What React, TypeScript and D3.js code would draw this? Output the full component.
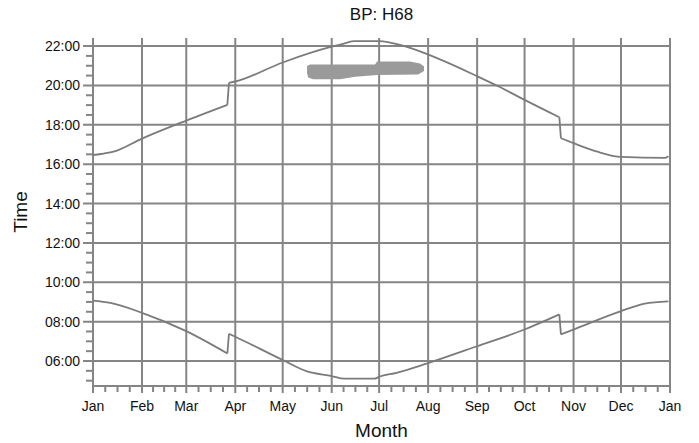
import React from "react";
import * as d3 from "d3";

const title = "BP: H68";
const xTitle = "Month";
const yTitle = "Time";

const monthLabels = ["Jan", "Feb", "Mar", "Apr", "May", "Jun", "Jul", "Aug", "Sep", "Oct", "Nov", "Dec", "Jan"];
const timeTickLabels = ["06:00", "08:00", "10:00", "12:00", "14:00", "16:00", "18:00", "20:00", "22:00"];

// upper curve (evening)
const sunsetDates = [
  "2011-01-01", "2011-01-06", "2011-01-14", "2011-02-01", "2011-03-01", "2011-03-27",
  "2011-03-28", "2011-04-01", "2011-05-01", "2011-06-01", "2011-06-07", "2011-06-15",
  "2011-07-01", "2011-07-16", "2011-07-31", "2011-09-01", "2011-09-15", "2011-10-01",
  "2011-10-23", "2011-10-24", "2011-11-01", "2011-11-16", "2011-12-01", "2011-12-29",
  "2011-12-31",
];
const sunsetTimes = [
  "16:28", "16:31", "16:38", "17:18", "18:13", "19:01",
  "20:08", "20:12", "21:10", "21:58", "22:05", "22:15",
  "22:15", "22:01", "21:36", "20:28", "19:56", "19:16",
  "18:23", "17:19", "17:04", "16:38", "16:22", "16:19",
  "16:24",
];

// lower curve (morning)
const sunriseDates = [
  "2011-01-01", "2011-01-12", "2011-02-01", "2011-03-01", "2011-03-27", "2011-03-28",
  "2011-04-01", "2011-05-01", "2011-05-16", "2011-06-01", "2011-06-09", "2011-06-28",
  "2011-07-01", "2011-07-12", "2011-07-31", "2011-09-01", "2011-10-01", "2011-10-23",
  "2011-10-24", "2011-11-01", "2011-12-01", "2011-12-16", "2011-12-31",
];
const sunriseTimes = [
  "09:04", "08:57", "08:27", "07:31", "06:23", "07:23",
  "07:14", "06:03", "05:29", "05:14", "05:06", "05:06",
  "05:12", "05:24", "05:52", "06:45", "07:36", "08:22",
  "07:21", "07:36", "08:32", "08:55", "09:02",
];

// grey smudge near the top (day of year, hour)
const blobDays = [135.4, 137.3, 178.4, 179.7, 200.5, 206.9, 209.4, 209.4, 205.6, 179.7, 165.7, 156.2, 139.2, 136.1, 135.4];
const blobHours = [20.99, 21.07, 21.07, 21.21, 21.21, 21.12, 20.96, 20.73, 20.56, 20.53, 20.44, 20.31, 20.31, 20.4, 20.63];

const W = 699;
const H = 443;
const margin = { left: 93, right: 29, top: 38, bottom: 57 };
const gridColor = "#858585";
const lineColor = "#7b7b7b";
const font = "'Liberation Sans', Arial, sans-serif";

const parseDate = (s: string) => {
  const [y, m, d] = s.split("-").map(Number);
  return new Date(Date.UTC(y, m - 1, d));
};
const parseTime = (s: string) => {
  const [h, m] = s.split(":").map(Number);
  return h + m / 60;
};

type Pt = { date: Date; hour: number };

// split a series at the clock-change jumps so the smoothing does not bend round them
function splitAtJumps(pts: Pt[]): Pt[][] {
  const out: Pt[][] = [];
  let cur: Pt[] = [pts[0]];
  for (let i = 1; i < pts.length; i++) {
    const days = (+pts[i].date - +pts[i - 1].date) / 86400000;
    const jump = Math.abs(pts[i].hour - pts[i - 1].hour) / days > 0.4;
    if (jump) {
      out.push(cur);
      out.push([pts[i - 1], pts[i]]);
      cur = [pts[i]];
    } else {
      cur.push(pts[i]);
    }
  }
  out.push(cur);
  return out;
}

const App: React.FC = () => {
  const svgRef = React.useRef<SVGSVGElement>(null);

  React.useEffect(() => {
    const svgEl = d3.select(svgRef.current);
    svgEl.selectAll("*").remove();

    const start = new Date(Date.UTC(2011, 0, 1));
    const end = new Date(Date.UTC(2012, 0, 1));

    const xScale = d3.scaleUtc().domain([start, end]).range([margin.left, W - margin.right]);
    const yScale = d3.scaleLinear().domain([4.73, 22.41]).range([H - margin.bottom, margin.top]);

    const x0 = margin.left;
    const x1 = W - margin.right;
    const y0 = margin.top;
    const y1 = H - margin.bottom;

    svgEl.append("rect").attr("width", W).attr("height", H).attr("fill", "white");

    const months = d3.utcMonth.range(start, new Date(Date.UTC(2012, 0, 2)));

    // horizontal grid + major y ticks
    const majorHours = timeTickLabels.map(parseTime);
    svgEl
      .append("g")
      .selectAll("line")
      .data(majorHours)
      .join("line")
      .attr("x1", x0 - 10)
      .attr("x2", x1)
      .attr("y1", (d) => yScale(d))
      .attr("y2", (d) => yScale(d))
      .attr("stroke", gridColor)
      .attr("stroke-width", 2);

    // minor y ticks every 30 min
    const minorHours = d3.range(5, 22.01, 0.5).filter((h) => !majorHours.includes(h));
    svgEl
      .append("g")
      .selectAll("line")
      .data(minorHours)
      .join("line")
      .attr("x1", x0 - 7)
      .attr("x2", x0)
      .attr("y1", (d) => yScale(d))
      .attr("y2", (d) => yScale(d))
      .attr("stroke", gridColor)
      .attr("stroke-width", 2);

    // vertical grid + month ticks
    svgEl
      .append("g")
      .selectAll("line")
      .data(months)
      .join("line")
      .attr("x1", (d) => xScale(d))
      .attr("x2", (d) => xScale(d))
      .attr("y1", y0)
      .attr("y2", y1 + 7)
      .attr("stroke", gridColor)
      .attr("stroke-width", 2);

    // minor x ticks, quarter months
    const minorDates: Date[] = [];
    for (let i = 0; i < months.length - 1; i++) {
      const a = +months[i];
      const b = +months[i + 1];
      for (let k = 1; k < 4; k++) minorDates.push(new Date(a + ((b - a) * k) / 4));
    }
    svgEl
      .append("g")
      .selectAll("line")
      .data(minorDates)
      .join("line")
      .attr("x1", (d) => xScale(d))
      .attr("x2", (d) => xScale(d))
      .attr("y1", y1)
      .attr("y2", y1 + 6)
      .attr("stroke", gridColor)
      .attr("stroke-width", 2);

    // axis lines
    svgEl.append("line").attr("x1", x0).attr("x2", x0).attr("y1", y0).attr("y2", y1 + 1)
      .attr("stroke", gridColor).attr("stroke-width", 2);
    svgEl.append("line").attr("x1", x0 - 1).attr("x2", x1 + 1).attr("y1", y1).attr("y2", y1)
      .attr("stroke", gridColor).attr("stroke-width", 2);

    // tick labels
    svgEl
      .append("g")
      .selectAll("text")
      .data(timeTickLabels)
      .join("text")
      .attr("x", x0 - 13)
      .attr("y", (d) => yScale(parseTime(d)) + 5)
      .attr("text-anchor", "end")
      .attr("font-family", font)
      .attr("font-size", 14)
      .attr("fill", "#111")
      .text((d) => d);

    svgEl
      .append("g")
      .selectAll("text")
      .data(months)
      .join("text")
      .attr("x", (d) => xScale(d))
      .attr("y", y1 + 25)
      .attr("text-anchor", "middle")
      .attr("font-family", font)
      .attr("font-size", 14)
      .attr("fill", "#111")
      .text((d, i) => monthLabels[i]);

    // smudge
    const blob = blobDays.map((d, i) => [xScale(new Date(+start + d * 86400000)), yScale(blobHours[i])] as [number, number]);
    svgEl
      .append("path")
      .attr("d", d3.line().curve(d3.curveLinearClosed)(blob)!)
      .attr("fill", "#9a9a9a")
      .attr("stroke", "none");

    // curves
    const lineDef = d3
      .line<Pt>()
      .curve(d3.curveMonotoneX)
      .x((d) => xScale(d.date))
      .y((d) => yScale(d.hour));

    const series: Pt[][] = [
      sunsetDates.map((d, i) => ({ date: parseDate(d), hour: parseTime(sunsetTimes[i]) })),
      sunriseDates.map((d, i) => ({ date: parseDate(d), hour: parseTime(sunriseTimes[i]) })),
    ];
    svgEl
      .append("g")
      .selectAll("path")
      .data(series)
      .join("path")
      .attr("d", (d) => splitAtJumps(d).map((seg) => lineDef(seg)!).join(""))
      .attr("fill", "none")
      .attr("stroke", lineColor)
      .attr("stroke-width", 1.8)
      .attr("stroke-linejoin", "round");

    // titles
    svgEl.append("text").attr("x", (x0 + x1) / 2).attr("y", 20).attr("text-anchor", "middle")
      .attr("font-family", font).attr("font-size", 17).attr("fill", "#111").text(title);
    svgEl.append("text").attr("x", (x0 + x1) / 2).attr("y", 437).attr("text-anchor", "middle")
      .attr("font-family", font).attr("font-size", 19).attr("fill", "#111").text(xTitle);
    svgEl.append("text").attr("transform", `translate(27,${(y0 + y1) / 2}) rotate(-90)`)
      .attr("text-anchor", "middle").attr("font-family", font).attr("font-size", 19)
      .attr("fill", "#111").text(yTitle);
  }, []);

  return (
    <svg
      ref={svgRef}
      width={W}
      height={H}
      viewBox={`0 0 ${W} ${H}`}
      style={{ position: "absolute", left: 0, top: 0, display: "block" }}
    />
  );
};

export default App;
